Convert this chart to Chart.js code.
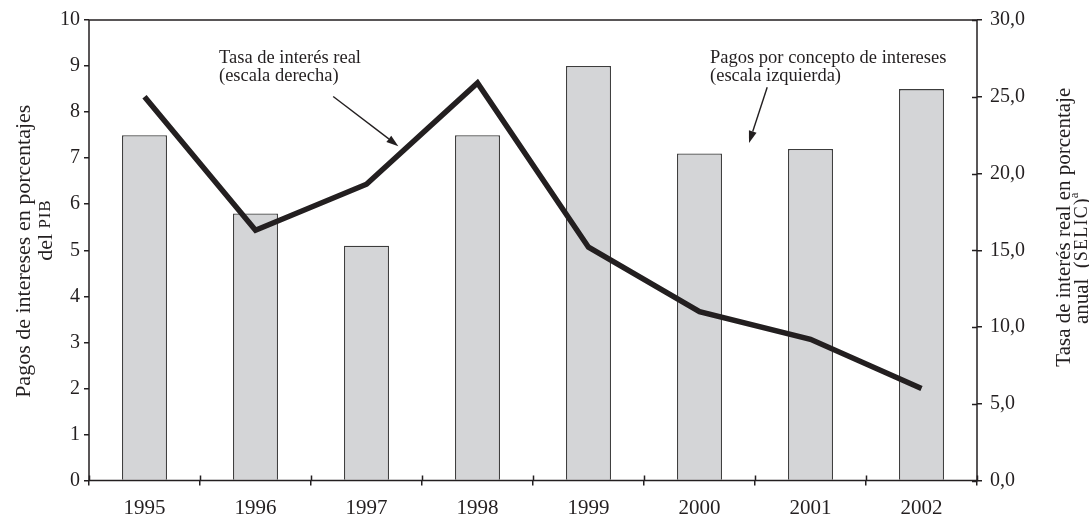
<!DOCTYPE html>
<html>
<head>
<meta charset="utf-8">
<script src="https://cdn.jsdelivr.net/npm/chart.js@4/dist/chart.umd.min.js"></script>
<style>
  html, body { margin: 0; padding: 0; background: #ffffff; }
  canvas { display: block; }
</style>
</head>
<body>
<canvas id="chart" width="1089" height="515"></canvas>
<script>
// Brazil: interest payments (% of GDP, left) and real SELIC rate (% per year, right)
const years = ['1995', '1996', '1997', '1998', '1999', '2000', '2001', '2002'];
const interestPayments = [7.5, 5.8, 5.1, 7.5, 9.0, 7.1, 7.2, 8.5];
const realRate = [25.0, 16.3, 19.3, 25.9, 15.2, 11.0, 9.2, 6.0];
const leftTickValues = [0, 1, 2, 3, 4, 5, 6, 7, 8, 9, 10];
const rightTickValues = [0, 5, 10, 15, 20, 25, 30];

const INK = '#231f20';
const SERIF = '"Liberation Serif", "DejaVu Serif", serif';
const font = (size) => size + 'px ' + SERIF;

// Callout texts and arrows, placed in data space (category index, left-axis value)
const callouts = [
  { lines: ['Tasa de interés real', '(escala derecha)'], at: [0.671, 9.06], lineStep: 0.39,
    arrow: { from: [1.70, 8.34], to: [2.287, 7.26] } },
  { lines: ['Pagos por concepto de intereses', '(escala izquierda)'], at: [5.095, 9.06], lineStep: 0.38,
    arrow: { from: [5.61, 8.54], to: [5.446, 7.33] } }
];

function runWidth(ctx, r) {
  ctx.font = r.font;
  const sp = r.spacing || 0;
  return ctx.measureText(r.text).width + sp * r.text.length;
}

function drawRuns(ctx, cx, cy, runs) {
  // runs laid out left to right, centred on (cx, cy) in the current frame
  const total = runs.reduce((s, r) => s + runWidth(ctx, r), 0);
  let x = cx - total / 2;
  ctx.textAlign = 'left';
  ctx.textBaseline = 'middle';
  runs.forEach(r => {
    ctx.font = r.font;
    const sp = r.spacing || 0;
    if (sp) {
      for (const ch of r.text) {
        ctx.fillText(ch, x, cy + (r.dy || 0));
        x += ctx.measureText(ch).width + sp;
      }
    } else {
      ctx.fillText(r.text, x, cy + (r.dy || 0));
      x += ctx.measureText(r.text).width;
    }
  });
}

const decorations = {
  id: 'decorations',
  afterDatasetsDraw(chart) {
    const { ctx, chartArea: a, scales } = chart;
    const xs = scales.x, yl = scales.y, yr = scales.y1;
    ctx.save();
    ctx.strokeStyle = INK;
    ctx.lineWidth = 1.5;
    // plot frame
    ctx.strokeRect(a.left, a.top, a.right - a.left, a.bottom - a.top);
    // inner halves of the crossing tick marks (x axis and right axis)
    ctx.beginPath();
    for (let i = 0; i <= years.length; i++) {
      const px = Math.round(xs.getPixelForValue(i - 0.5)) + 0.5;
      ctx.moveTo(px, a.bottom);
      ctx.lineTo(px, a.bottom - 5);
    }
    rightTickValues.forEach(v => {
      const py = Math.round(yr.getPixelForValue(v)) + 0.5;
      ctx.moveTo(a.right, py);
      ctx.lineTo(a.right - 5, py);
    });
    ctx.stroke();

    // callouts
    ctx.fillStyle = INK;
    callouts.forEach(c => {
      const tx = xs.getPixelForValue(c.at[0]);
      ctx.font = font(18.5);
      ctx.textAlign = 'left';
      ctx.textBaseline = 'alphabetic';
      c.lines.forEach((t, k) => {
        ctx.fillText(t, tx, yl.getPixelForValue(c.at[1] - k * c.lineStep));
      });
      const x0 = xs.getPixelForValue(c.arrow.from[0]), y0 = yl.getPixelForValue(c.arrow.from[1]);
      const x1 = xs.getPixelForValue(c.arrow.to[0]), y1 = yl.getPixelForValue(c.arrow.to[1]);
      const ang = Math.atan2(y1 - y0, x1 - x0);
      const head = 12, half = 4;
      const bx = x1 - head * Math.cos(ang), by = y1 - head * Math.sin(ang);
      ctx.lineWidth = 1.4;
      ctx.beginPath();
      ctx.moveTo(x0, y0);
      ctx.lineTo(bx, by);
      ctx.stroke();
      ctx.beginPath();
      ctx.moveTo(x1, y1);
      ctx.lineTo(bx + half * Math.sin(ang), by - half * Math.cos(ang));
      ctx.lineTo(bx - half * Math.sin(ang), by + half * Math.cos(ang));
      ctx.closePath();
      ctx.fill();
    });

    // axis titles, rotated to read bottom-to-top
    const midY = (a.top + a.bottom) / 2;
    const rotated = (x, y, runs) => {
      ctx.save();
      ctx.translate(x, y);
      ctx.rotate(-Math.PI / 2);
      drawRuns(ctx, 0, 0, runs);
      ctx.restore();
    };
    rotated(24, midY + 1, [{ text: 'Pagos de intereses en porcentajes', font: font(22) }]);
    rotated(46, midY - 20, [{ text: 'del ', font: font(22) }, { text: 'PIB', font: font(17), spacing: 0.8 }]);
    rotated(1064, midY - 23, [{ text: 'Tasa de interés real en porcentaje', font: font(21) }]);
    rotated(1082, midY + 8, [
      { text: 'anual  (', font: font(21) },
      { text: 'SELIC', font: font(18), spacing: 1.2 },
      { text: ')', font: font(21) },
      { text: 'a', font: font(13), dy: -7 }
    ]);
    ctx.restore();
  }
};

const axisGrid = { display: true, drawOnChartArea: false, drawTicks: true, tickLength: 5, color: INK, lineWidth: 1.5 };

new Chart(document.getElementById('chart'), {
  type: 'bar',
  data: {
    labels: years,
    datasets: [
      {
        type: 'line',
        label: 'Tasa de interés real',
        data: realRate,
        yAxisID: 'y1',
        borderColor: INK,
        borderWidth: 5.5,
        borderJoinStyle: 'miter',
        borderCapStyle: 'butt',
        pointRadius: 0,
        tension: 0,
        fill: false,
        order: 0
      },
      {
        type: 'bar',
        label: 'Pagos por concepto de intereses',
        data: interestPayments,
        yAxisID: 'y',
        backgroundColor: '#d4d5d7',
        borderColor: '#3c3c3c',
        borderWidth: 1.3,
        barPercentage: 1,
        categoryPercentage: 0.405,
        order: 1
      }
    ]
  },
  options: {
    responsive: false,
    animation: false,
    events: [],
    layout: { padding: { top: 18, left: 0, right: 0, bottom: 0 } },
    plugins: { legend: { display: false }, tooltip: { enabled: false }, title: { display: false } },
    scales: {
      x: {
        offset: true,
        border: { display: false },
        grid: { ...axisGrid, offset: true },
        ticks: { color: INK, font: { family: SERIF, size: 21 }, padding: 10, maxRotation: 0 },
        afterFit(s) { s.height = 34.5; }
      },
      y: {
        position: 'left',
        min: 0, max: 10,
        border: { display: false },
        grid: axisGrid,
        afterBuildTicks(s) { s.ticks = leftTickValues.map(v => ({ value: v })); },
        ticks: { color: INK, font: { family: SERIF, size: 20 }, padding: 4 },
        afterFit(s) { s.width = 89; }
      },
      y1: {
        position: 'right',
        min: 0, max: 30,
        border: { display: false },
        grid: axisGrid,
        afterBuildTicks(s) { s.ticks = rightTickValues.map(v => ({ value: v })); },
        ticks: {
          color: INK, font: { family: SERIF, size: 20 }, padding: 8,
          callback: (v) => Number(v).toFixed(1).replace('.', ',')
        },
        afterFit(s) { s.width = 112; }
      }
    }
  },
  plugins: [decorations]
});
</script>
</body>
</html>
